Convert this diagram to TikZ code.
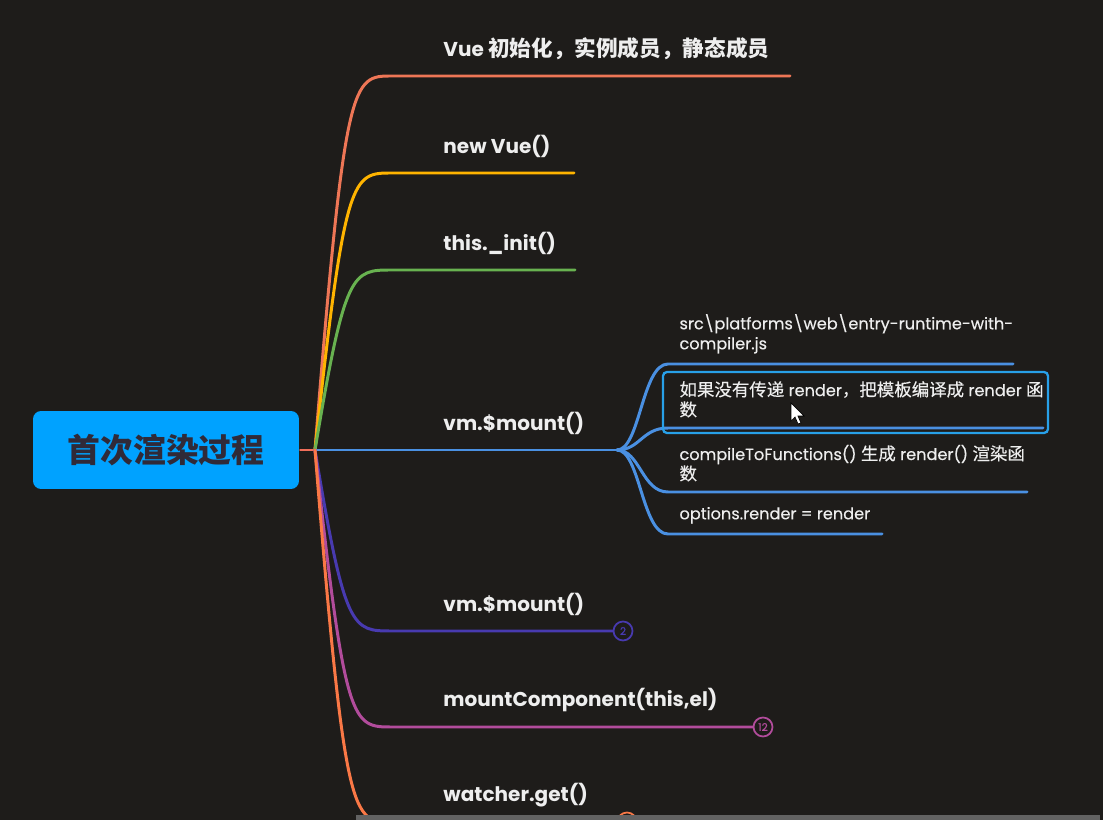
\documentclass[tikz,border=0pt]{standalone}
\usepackage{fontspec}
\setmainfont{Poppins}[UprightFeatures={FakeBold=0.35}]
\newfontfamily\cjk{Noto Sans CJK SC}[Scale=1.08, UprightFeatures={FakeBold=0.35}]
\usepackage{tikz}
\usetikzlibrary{positioning}
\definecolor{bg}{RGB}{30, 28, 26}
\definecolor{rootblue}{RGB}{0, 162, 255}
\definecolor{rootink}{RGB}{48, 42, 56}
\definecolor{txtwhite}{RGB}{238, 238, 238}
\definecolor{cStub}{RGB}{240, 110, 90}
\definecolor{cSalmon}{RGB}{238, 118, 86}
\definecolor{cYellow}{RGB}{255, 180, 0}
\definecolor{cGreen}{RGB}{104, 178, 80}
\definecolor{cBlue}{RGB}{74, 144, 226}
\definecolor{cIndigo}{RGB}{72, 58, 176}
\definecolor{cPurple}{RGB}{178, 76, 156}
\definecolor{cOrange}{RGB}{250, 120, 70}
\definecolor{cHilite}{RGB}{40, 160, 232}
\definecolor{scrollgrey}{RGB}{98, 98, 98}

\begin{document}
\begin{tikzpicture}[x=0.02cm, y=-0.02cm, line width=1.7pt, line cap=round,
    root/.style={rounded corners=0.16cm, fill=rootblue, text=rootink, minimum width=5.32cm,
      minimum height=1.56cm, font=\bfseries\fontsize{17.3}{20}\selectfont},
    mainlabel/.style={anchor=west, inner sep=0pt, text=txtwhite, font=\bfseries\fontsize{11.4}{13}\selectfont},
    sublabel/.style={anchor=south west, align=left, inner sep=0pt, text=txtwhite,
      font=\fontsize{9.2}{11.4}\selectfont},
    badge/.style={circle, draw=#1, fill=bg, text=#1, line width=1pt, minimum size=0.38cm,
      inner sep=0pt, font=\fontsize{6}{6}\selectfont}]

  \fill[bg] (0,0) rectangle (1103,820);
  \clip (0,0) rectangle (1103,820);

  \node[root] (root) at (166,450) {\cjk 首次渲染过程};
  \coordinate (hub) at (315,450);
  \draw[cStub] (root.east) -- (hub);

  % main branches
  \foreach \nm/\yy/\xe/\cl/\txt in {
      vue/76/790/cSalmon/{Vue {\cjk 初始化，实例成员，静态成员}},
      new/173/574/cYellow/{new Vue()},
      init/270/575/cGreen/{this.\_init()},
      mountA/450/617/cBlue/{vm.\$mount()},
      mountB/631/614/cIndigo/{vm.\$mount()},
      comp/727/754/cPurple/{mountComponent(this,el)},
      get/822/618/cOrange/{watcher.get()}} {
    \coordinate (e\nm) at (\xe,\yy);
    \draw[\cl] (hub) .. controls (345,\yy) and (352,\yy) .. (392,\yy) -- (e\nm);
    \node[mainlabel] (l\nm) at (442,\yy-27) {\txt};
  }

  \node[badge=cIndigo] (nB) at (623,631) {2};
  \node[badge=cPurple] (nC) at (763,727) {12};
  \node[badge=cOrange] (nG) at (627,822) {};

  % children of vm.$mount()
  \coordinate (fork) at (emountA);
  \foreach \nm/\yy/\xe/\txt in {
      src/364/1013/{src\textbackslash platforms\textbackslash web\textbackslash entry-runtime-with-\\compiler.js},
      tpl/428/1043/{{\cjk 如果没有传递} render{\cjk ，把模板编译成} render {\cjk 函}\\{\cjk 数}},
      cmp/492/1027/{compileToFunctions() {\cjk 生成} render() {\cjk 渲染函}\\{\cjk 数}},
      opt/534/882/{options.render = render}} {
    \coordinate (c\nm) at (\xe,\yy);
    \draw[cBlue] (fork) .. controls (640,450) and (642,\yy) .. (668,\yy) -- (c\nm);
    \node[sublabel] (t\nm) at (678,\yy-9) {\txt};
  }

  \draw[cHilite, line width=1.3pt, rounded corners=0.08cm] (663,372) rectangle (1048,433);

  % mouse pointer
  \filldraw[fill=white, draw=black, line width=0.4pt, line cap=butt]
    (791,403) -- (791,421) -- (795,417) -- (798,424) -- (801,423) -- (798,416) -- (804,416) -- cycle;

  % scroll bar
  \fill[scrollgrey] (356,815) rectangle (1100,820);

\end{tikzpicture}
\end{document}
